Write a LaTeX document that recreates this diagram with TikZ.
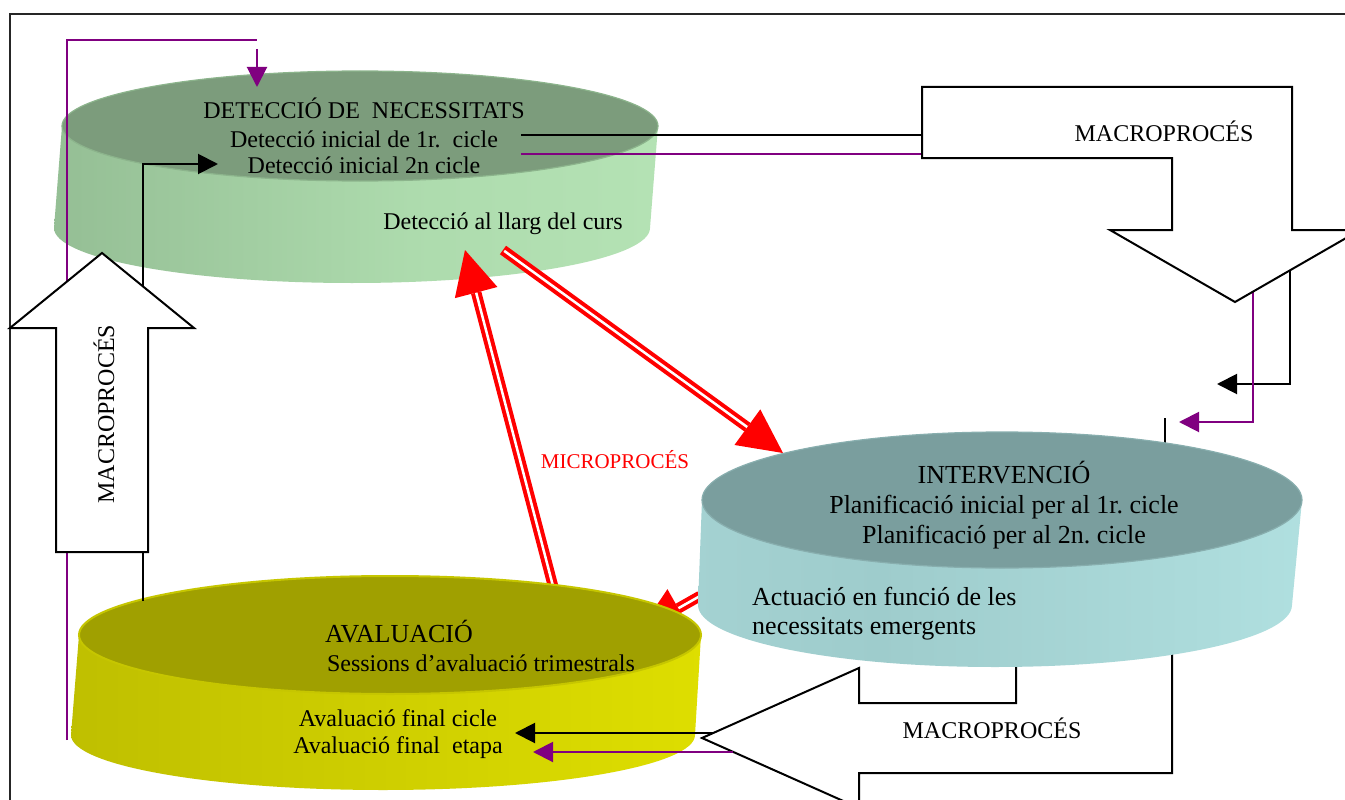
\documentclass[tikz,border=0pt]{standalone}
\usepackage{fontspec}
\setmainfont{Liberation Serif}
\usetikzlibrary{arrows.meta,calc}
\frenchspacing

\definecolor{plum}{RGB}{128,0,128}
\definecolor{flowred}{RGB}{255,0,0}
\definecolor{greentop}{RGB}{124,156,124}
\definecolor{greenrim}{RGB}{140,180,140}
\definecolor{tealtop}{RGB}{122,158,158}
\definecolor{tealrim}{RGB}{136,174,174}
\definecolor{olivetop}{RGB}{160,160,0}
\definecolor{oliverim}{RGB}{198,198,0}

% side walls of the three discs, lit from the right
\pgfdeclarehorizontalshading{greenside}{100bp}{rgb(0bp)=(0.62,0.80,0.62); rgb(18bp)=(0.56,0.72,0.56); rgb(55bp)=(0.68,0.86,0.68); rgb(100bp)=(0.74,0.92,0.74)}
\pgfdeclarehorizontalshading{tealside}{100bp}{rgb(0bp)=(0.68,0.86,0.86); rgb(40bp)=(0.62,0.80,0.80); rgb(100bp)=(0.74,0.93,0.93)}
\pgfdeclarehorizontalshading{yellowside}{100bp}{rgb(0bp)=(0.69,0.69,0); rgb(100bp)=(0.93,0.93,0)}

\tikzset{
  txt/.style={inner sep=0pt, anchor=base, font=\fontsize{24}{28}\selectfont},
  txtbig/.style={txt, font=\fontsize{26}{30}\selectfont},
  blockarrow/.style={draw=black, line width=2pt, fill=white, line join=miter},
  blackflow/.style={draw=black, line width=2pt},
  plumflow/.style={draw=plum, line width=2pt},
  headb/.style={-{Triangle[length=20pt,width=20pt]}},
  redshaft/.style={draw=flowred, line width=10.5pt},
  redgap/.style={draw=white, line width=2.5pt},
}

% double red flow arrow: #1 prefix, #2 tail, #3 tip
\newcommand\redflow[3]{%
  \coordinate (#1b) at ($(#3)!44pt!(#2)$);
  \draw[redshaft] (#2) -- (#1b);
  \draw[redgap] ($(#2)!1.5pt!(#1b)$) -- (#1b);
  \fill[flowred] (#3) -- ($(#1b)!22pt!90:(#3)$) -- ($(#1b)!22pt!-90:(#3)$) -- cycle;
}

\begin{document}
\begin{tikzpicture}[x=1pt,y=-1pt]
\useasboundingbox (0,0) rectangle (1345,800);
\clip (0,0) rectangle (1345,800);
\fill[white] (0,0) rectangle (1345,800);

% frame
\draw[line width=2pt, draw=black!85] (10,802) -- (10,14) -- (1347,14);

% detection disc
\path[shading=greenside] (62,126) -- (54,228)
  arc[start angle=180, end angle=0, x radius=298, y radius=55] -- (658,126) -- cycle;
\fill[greentop] (360,126) ellipse [x radius=298, y radius=55];
\draw[greenrim, line width=1.2pt] (360,126) ellipse [x radius=298, y radius=55];

% red micro-process arrows
\coordinate (ra) at (503,250);  \coordinate (rt) at (783,453);
\coordinate (sa) at (553,586);  \coordinate (st) at (465,250);
\coordinate (ta) at (700,596);  \coordinate (tt) at (640,630);
\redflow{r}{ra}{rt}
\redflow{s}{sa}{st}
\redflow{t}{ta}{tt}

% lower macro-process arrow, partly behind the intervention disc
\draw[blackflow] (1165,418) -- (1165,470);
\path[blockarrow] (1016,600) -- (1016,703) -- (859,703) -- (859,668) -- (702,738)
  -- (859,808) -- (859,773) -- (1172,773) -- (1172,600) -- cycle;

% intervention disc
\path[shading=tealside] (702,500) -- (698,605)
  arc[start angle=180, end angle=0, x radius=297, y radius=62] -- (1302,500) -- cycle;
\fill[tealtop] (1002,500) ellipse [x radius=300, y radius=68];
\draw[tealrim, line width=1.2pt] (1002,500) ellipse [x radius=300, y radius=68];

% evaluation disc
\path[shading=yellowside] (79,635) -- (71,735)
  arc[start angle=180, end angle=0, x radius=312, y radius=55] -- (701,635) -- cycle;
\fill[olivetop] (390,635) ellipse [x radius=311, y radius=59];
\draw[oliverim, line width=2pt] (390,635) ellipse [x radius=311, y radius=59];

% left feedback lines
\coordinate (pl0) at (67,740); \coordinate (pl1) at (67,40); \coordinate (pl2) at (257,40);
\draw[plumflow] (pl0) -- (pl1) -- (pl2);
\coordinate (pa0) at (257,49); \coordinate (pa1) at (257,87);
\draw[plumflow, headb] (pa0) -- (pa1);
\coordinate (yl) at (143,601); \coordinate (yk) at (143,164); \coordinate (gin) at (218,164);
\draw[blackflow, headb] (yl) -- (yk) -- (gin);

% left macro-process arrow
\path[blockarrow] (56,552) -- (56,328) -- (10,328) -- (102,253) -- (194,328)
  -- (148,328) -- (148,552) -- cycle;

% lines from detection to the upper macro-process arrow
\coordinate (g1) at (521,135); \coordinate (bx1) at (922,135);
\coordinate (g2) at (521,154); \coordinate (bx2) at (922,154);
\draw[blackflow] (g1) -- (bx1);
\draw[plumflow] (g2) -- (bx2);

% lines from the upper arrow towards intervention
\coordinate (rk0) at (1290,260); \coordinate (rk1) at (1290,384); \coordinate (rk2) at (1217,384);
\coordinate (rp0) at (1253,280); \coordinate (rp1) at (1253,422); \coordinate (rp2) at (1179,422);
\draw[blackflow, headb] (rk0) -- (rk1) -- (rk2);
\draw[plumflow, headb] (rp0) -- (rp1) -- (rp2);

% upper macro-process arrow
\path[blockarrow] (922,87) -- (1292,87) -- (1292,230) -- (1360,230) -- (1235,302)
  -- (1110,230) -- (1172,230) -- (1172,158) -- (922,158) -- cycle;

% lines from the lower arrow into evaluation
\coordinate (bk0) at (713,733); \coordinate (bk1) at (515,733);
\coordinate (bp0) at (733,752); \coordinate (bp1) at (533,752);
\draw[blackflow, headb] (bk0) -- (bk1);
\draw[plumflow, headb] (bp0) -- (bp1);

% texts
\node[txt] (dn1) at (364,118) {DETECCIÓ DE\ \ NECESSITATS};
\node[txt] (dn2) at (364,147) {Detecció inicial de 1r.\ \ cicle};
\node[txt] (dn3) at (364,173) {Detecció inicial 2n cicle};
\node[txt] (dn4) at (503,229) {Detecció al llarg del curs};

\node[txtbig] (iv1) at (1004,483) {INTERVENCIÓ};
\node[txtbig] (iv2) at (1004,513) {Planificació inicial per al 1r. cicle};
\node[txtbig] (iv3) at (1004,543) {Planificació per al 2n. cicle};
\node[txtbig, anchor=base west] (iv4) at (752,605) {Actuació en funció de les};
\node[txtbig, anchor=base west] (iv5) at (752,634) {necessitats emergents};

\node[txtbig] (av1) at (399,642) {AVALUACIÓ};
\node[txt] (av2) at (481,671) {Sessions d’avaluació trimestrals};
\node[txt] (av3) at (398,726) {Avaluació final cicle};
\node[txt] (av4) at (398,753) {Avaluació final\ \ etapa};

\node[txt, text=flowred, font=\fontsize{21}{25}\selectfont] (micro) at (615,468) {MICROPROCÉS};
\node[txt] (macro1) at (1164,142) {MACROPROCÉS};
\node[txt] (macro2) at (992,738) {MACROPROCÉS};
\node[txt, rotate=90] (macro3) at (114,414) {MACROPROCÉS};
\end{tikzpicture}
\end{document}
